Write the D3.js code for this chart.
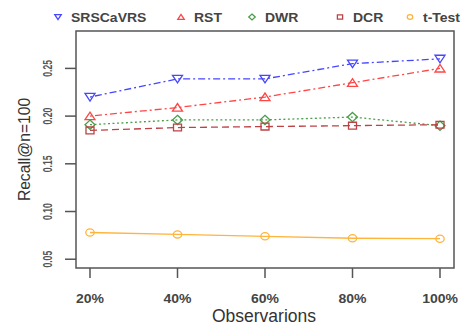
<!DOCTYPE html>
<html>
<head>
<meta charset="utf-8">
<script src="https://cdn.jsdelivr.net/npm/d3@7"></script>
<style>
  html, body { margin: 0; padding: 0; background: #fff; }
  svg { display: block; font-family: "Liberation Sans", Arial, sans-serif; }
</style>
</head>
<body>
<svg id="chart" width="465" height="329"></svg>
<script>
// Observation fractions on the x axis
const categories = ["20%", "40%", "60%", "80%", "100%"];

// Recall@n=100 per method
const srscavrs = [0.220, 0.239, 0.239, 0.255, 0.260];
const rst      = [0.200, 0.209, 0.220, 0.235, 0.250];
const dwr      = [0.191, 0.196, 0.196, 0.199, 0.190];
const dcr      = [0.185, 0.188, 0.189, 0.190, 0.191];
const tTest    = [0.078, 0.076, 0.074, 0.072, 0.0715];

const yTicks = [0.05, 0.10, 0.15, 0.20, 0.25];
const yLimits = [0.05, 0.28];

const seriesNames = ["SRSCaVRS", "RST", "DWR", "DCR", "t-Test"];

const series = [
  { name: seriesNames[0], values: srscavrs, color: "#4646ff", dash: "2,3,7,3", shape: "tridown" },
  { name: seriesNames[1], values: rst,      color: "#ff4646", dash: "2,3,7,3", shape: "triup" },
  { name: seriesNames[2], values: dwr,      color: "#4a9e4a", dash: "2,2.5",   shape: "diamond" },
  { name: seriesNames[3], values: dcr,      color: "#bc4245", dash: "7,4",     shape: "square" },
  { name: seriesNames[4], values: tTest,    color: "#ffb43c", dash: null,      shape: "circle" }
];

const svg = d3.select("#chart");
const box = { left: 76, right: 454, top: 31, bottom: 268 };

// R-style 4% axis extension around the limits
const xPad = (categories.length - 1) * 0.04;
const x = d3.scaleLinear()
  .domain([-xPad, categories.length - 1 + xPad])
  .range([box.left, box.right]);
const yPad = (yLimits[1] - yLimits[0]) * 0.04;
const y = d3.scaleLinear()
  .domain([yLimits[0] - yPad, yLimits[1] + yPad])
  .range([box.bottom, box.top]);

// Marker outlines (R pch 6, 2, 5, 0, 1)
function markerPath(shape, s) {
  switch (shape) {
    case "tridown": return `M${-5*s},${-3.6*s}L${5*s},${-3.6*s}L0,${4*s}Z`;
    case "triup":   return `M${-5*s},${3.6*s}L${5*s},${3.6*s}L0,${-4*s}Z`;
    case "diamond": return `M0,${-4.6*s}L${5*s},0L0,${4.6*s}L${-5*s},0Z`;
    case "square":  return `M${-4*s},${-3.4*s}H${4*s}V${3.4*s}H${-4*s}Z`;
  }
  return "";
}
function drawMarker(g, shape, cx, cy, s, color) {
  if (shape === "circle") {
    g.append("ellipse").attr("cx", cx).attr("cy", cy)
      .attr("rx", 4.2 * s).attr("ry", 3.6 * s)
      .attr("fill", "none").attr("stroke", color).attr("stroke-width", 1.3);
  } else {
    g.append("path").attr("d", markerPath(shape, s))
      .attr("transform", `translate(${cx},${cy})`)
      .attr("fill", "none").attr("stroke", color).attr("stroke-width", 1.3);
  }
}

// Series lines and markers
const line = d3.line().x((d, i) => x(i)).y(d => y(d));
const plot = svg.append("g");
series.forEach(s => {
  plot.append("path")
    .datum(s.values)
    .attr("d", line)
    .attr("fill", "none")
    .attr("stroke", s.color)
    .attr("stroke-width", 1.3)
    .attr("stroke-dasharray", s.dash);
  s.values.forEach((v, i) => drawMarker(plot, s.shape, x(i), y(v), 1, s.color));
});

// Frame
svg.append("rect")
  .attr("x", box.left).attr("y", box.top)
  .attr("width", box.right - box.left).attr("height", box.bottom - box.top)
  .attr("fill", "none").attr("stroke", "#555").attr("stroke-width", 1.5);

// Bottom axis
const xAxis = svg.append("g");
categories.forEach((c, i) => {
  xAxis.append("line")
    .attr("x1", x(i)).attr("x2", x(i))
    .attr("y1", box.bottom).attr("y2", box.bottom + 10)
    .attr("stroke", "#555").attr("stroke-width", 1.5);
  xAxis.append("text")
    .attr("transform", `translate(${x(i)},303) scale(1,0.9)`)
    .attr("text-anchor", "middle")
    .attr("font-size", 14).attr("font-weight", "bold")
    .attr("fill", "#444")
    .text(c);
});

// Left axis
const yAxis = svg.append("g");
yTicks.forEach(t => {
  yAxis.append("line")
    .attr("x1", box.left - 11).attr("x2", box.left)
    .attr("y1", y(t)).attr("y2", y(t))
    .attr("stroke", "#555").attr("stroke-width", 1.5);
  yAxis.append("text")
    .attr("transform", `translate(51.5,${y(t)}) rotate(-90) scale(0.72,1)`)
    .attr("text-anchor", "middle")
    .attr("font-size", 12).attr("font-weight", "bold")
    .attr("fill", "#555")
    .text(d3.format(".2f")(t));
});

// Axis titles
svg.append("text")
  .attr("x", (box.left + box.right) / 2 - 1).attr("y", 322)
  .attr("text-anchor", "middle")
  .attr("font-size", 17.5).attr("fill", "#333")
  .text("Observarions");
svg.append("text")
  .attr("transform", `translate(29.5,${(box.top + box.bottom) / 2}) rotate(-90) scale(0.92,1)`)
  .attr("text-anchor", "middle")
  .attr("font-size", 17).attr("fill", "#333")
  .text("Recall@n=100");

// Legend across the top margin
const legendX = [58, 181, 252, 340, 410];
const legend = svg.append("g");
series.forEach((s, i) => {
  drawMarker(legend, s.shape, legendX[i], 17, 0.65, s.color);
  legend.append("text")
    .attr("transform", `translate(${legendX[i] + 13},22) scale(1,0.92)`)
    .attr("font-size", 14).attr("font-weight", "bold")
    .attr("fill", "#444")
    .text(s.name);
});
</script>
</body>
</html>
